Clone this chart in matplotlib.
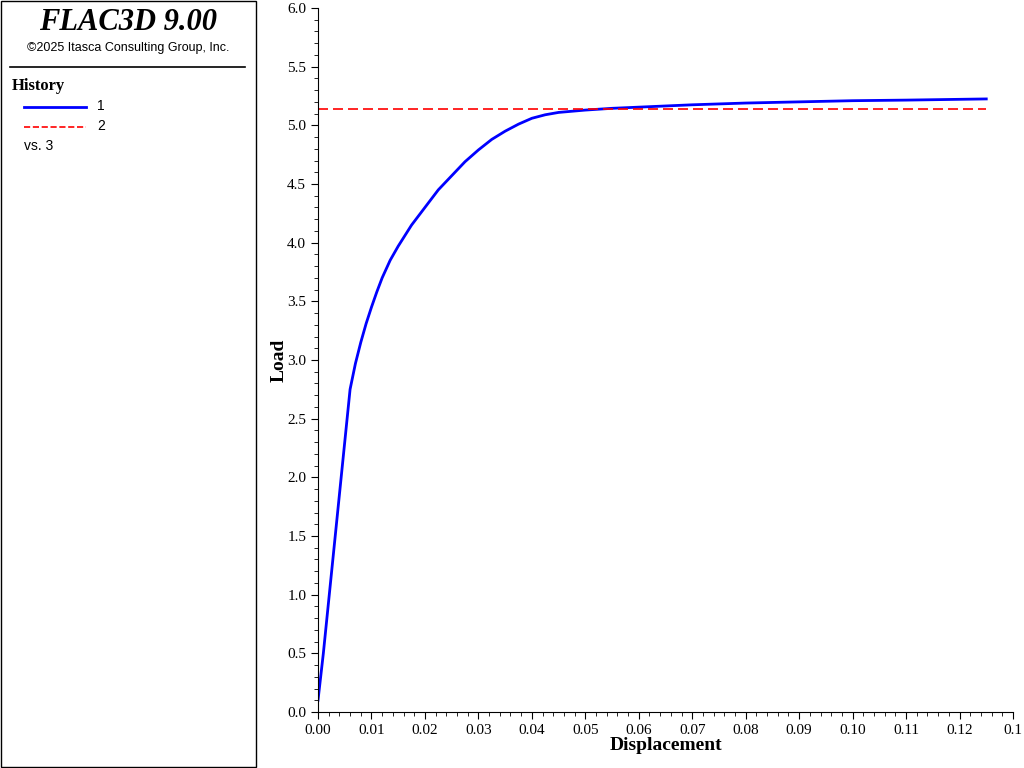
import matplotlib.pyplot as plt
from matplotlib.lines import Line2D
from matplotlib.patches import Rectangle
from matplotlib.ticker import MultipleLocator

# history 1: load vs displacement
disp = [0.0, 0.001, 0.003, 0.005, 0.006, 0.007, 0.008, 0.009, 0.010, 0.011,
        0.012, 0.0135, 0.015, 0.0175, 0.020, 0.0225, 0.025, 0.0275, 0.030,
        0.0325, 0.035, 0.0375, 0.040, 0.0425, 0.045, 0.050, 0.055, 0.060,
        0.070, 0.080, 0.090, 0.100, 0.110, 0.125]
load = [0.1, 0.5, 1.4, 2.3, 2.75, 2.97, 3.15, 3.31, 3.45, 3.58,
        3.7, 3.85, 3.97, 4.15, 4.3, 4.45, 4.57, 4.69, 4.79,
        4.88, 4.95, 5.01, 5.06, 5.09, 5.11, 5.13, 5.145, 5.155,
        5.175, 5.19, 5.20, 5.21, 5.215, 5.225]
# history 2: reference load
ref_x = [0.0, 0.125]
ref_load = [5.14, 5.14]

fig = plt.figure(figsize=(10.24, 7.68), dpi=100)
serif = 'Liberation Serif'

# left info panel
fig.patches.append(Rectangle((1/1024, 1/768), 255/1024, 766/768, transform=fig.transFigure,
                             fill=False, edgecolor='black', linewidth=1))
fig.text(128/1024, 1 - 22/768, 'FLAC3D 9.00', family=serif, style='italic', weight='bold',
         fontsize=22, ha='center', va='center')
fig.text(128/1024, 1 - 48/768, '\u00a92025 Itasca Consulting Group, Inc.',
         family='Liberation Sans', fontsize=9, ha='center', va='center')
fig.add_artist(Line2D([10/1024, 245/1024], [1 - 67/768] * 2, color='black', lw=1.2))
fig.text(12/1024, 1 - 86/768, 'History', family=serif, weight='bold', fontsize=12, va='center')
fig.add_artist(Line2D([24/1024, 86/1024], [1 - 107/768] * 2, color='blue', lw=2))
fig.text(97/1024, 1 - 106/768, '1', family='Liberation Sans', fontsize=10, va='center')
fig.add_artist(Line2D([24/1024, 86/1024], [1 - 127/768] * 2, color='red', lw=1.2, ls='--'))
fig.text(97/1024, 1 - 126/768, '2', family='Liberation Sans', fontsize=10, va='center')
fig.text(24/1024, 1 - 146/768, 'vs. 3', family='Liberation Sans', fontsize=10, va='center')

ax = fig.add_axes([318/1024, 56/768, 695/1024, 704/768])
ax.plot(disp, load, color='blue', lw=2)
ax.plot(ref_x, ref_load, color='red', lw=1.2, ls='--', dashes=(6, 3))
xt = [i * 0.01 for i in range(14)]
ax.set_xticks(xt)
ax.set_xticklabels(['0.1' if i == 13 else f'{v:.2f}' for i, v in enumerate(xt)])
ax.xaxis.set_minor_locator(MultipleLocator(0.002))
ax.set_yticks([i * 0.5 for i in range(13)])
ax.set_yticklabels([f'{i * 0.5:.1f}' for i in range(13)])
ax.yaxis.set_minor_locator(MultipleLocator(0.1))
ax.set_xlim(0, 0.13)
ax.set_ylim(0, 6.0)
for s in ('top', 'right'):
    ax.spines[s].set_visible(False)
ax.tick_params(which='both', direction='out', labelsize=11)
ax.tick_params(which='major', length=5)
ax.tick_params(which='minor', length=3)
for lbl in ax.get_xticklabels() + ax.get_yticklabels():
    lbl.set_family(serif)
ax.set_xlabel('Displacement', family=serif, weight='bold', fontsize=14, labelpad=0)
ax.set_ylabel('Load', family=serif, weight='bold', fontsize=14, labelpad=0)

fig.savefig('out.png', dpi=100)
